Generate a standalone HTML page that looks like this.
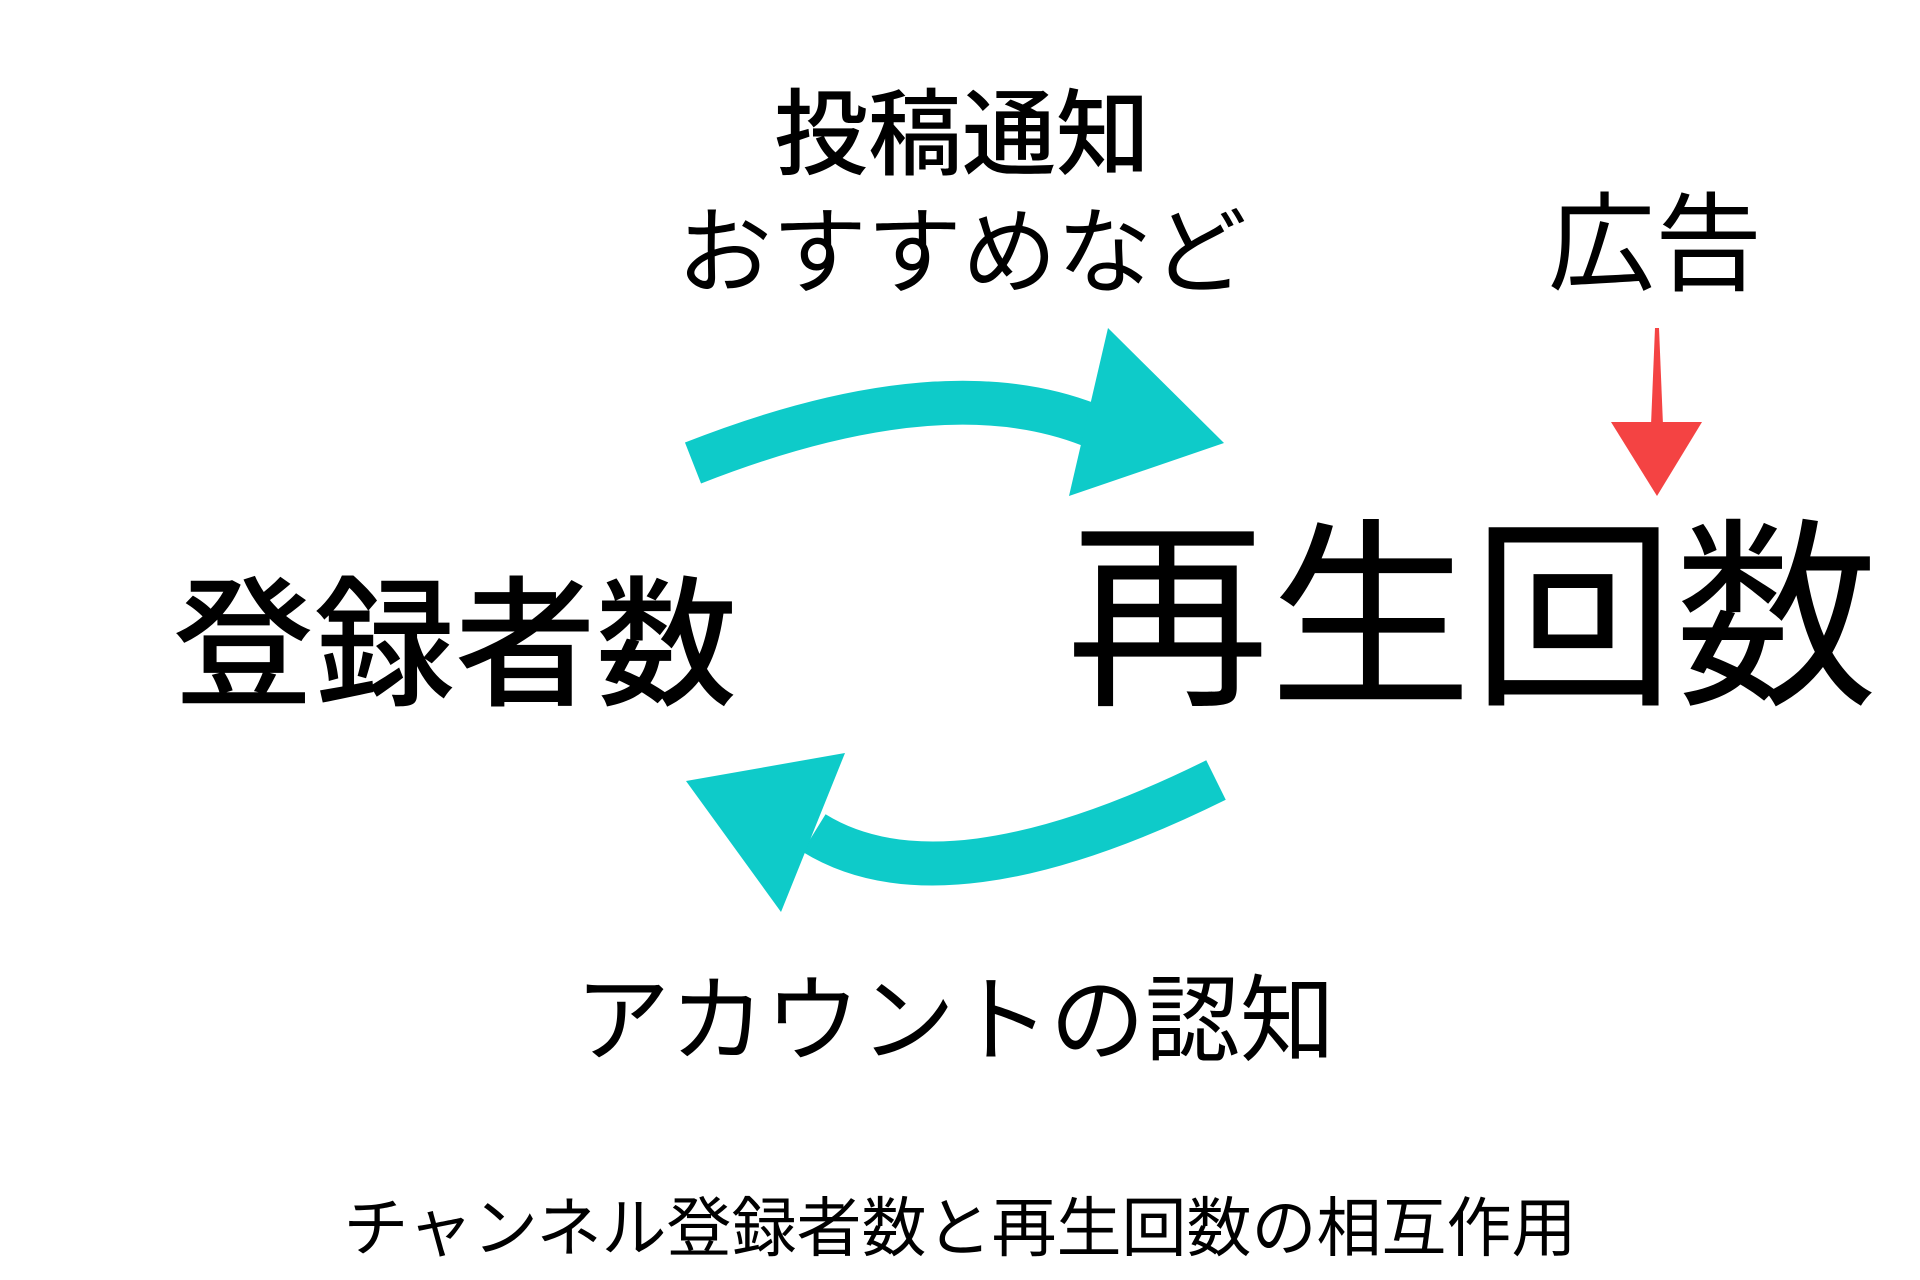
<!DOCTYPE html>
<html><head><meta charset="utf-8"><style>
html,body{margin:0;padding:0;background:#fff;width:1920px;height:1280px;overflow:hidden}
.t{position:absolute;transform:translate(-50%,-50%);line-height:1;white-space:nowrap;font-family:"Liberation Sans","Noto Sans CJK JP",sans-serif;color:#000;font-weight:400}
</style></head><body>
<svg width="1920" height="1280" style="position:absolute;left:0;top:0">
<path d="M693 463 Q 940 366 1090 425" fill="none" stroke="#0ecbc9" stroke-width="44"/>
<polygon points="1108,328 1224,443 1069,496" fill="#0ecbc9"/>
<path d="M1216 780 Q 945 914 814 833" fill="none" stroke="#0ecbc9" stroke-width="44"/>
<polygon points="845,753 686,781 781,912" fill="#0ecbc9"/>
<polygon points="1655,328 1659,328 1663,425 1651,425" fill="#f44343"/>
<polygon points="1611,422 1702,422 1657,496" fill="#f44343"/>
</svg>
<div class="t" style="left:962px;top:135px;font-size:94px;font-weight:500">投稿通知</div>
<div class="t" style="left:962px;top:254px;font-size:95px">おすすめなど</div>
<div class="t" style="left:1655px;top:245px;font-size:107px">広告</div>
<div class="t" style="left:1472px;top:620px;font-size:203px">再生回数</div>
<div class="t" style="left:455px;top:646px;font-size:141px;font-weight:500">登録者数</div>
<div class="t" style="left:955px;top:1022px;font-size:95px">アカウントの認知</div>
<div class="t" style="left:960px;top:1228px;font-size:65px">チャンネル登録者数と再生回数の相互作用</div>
</body></html>
